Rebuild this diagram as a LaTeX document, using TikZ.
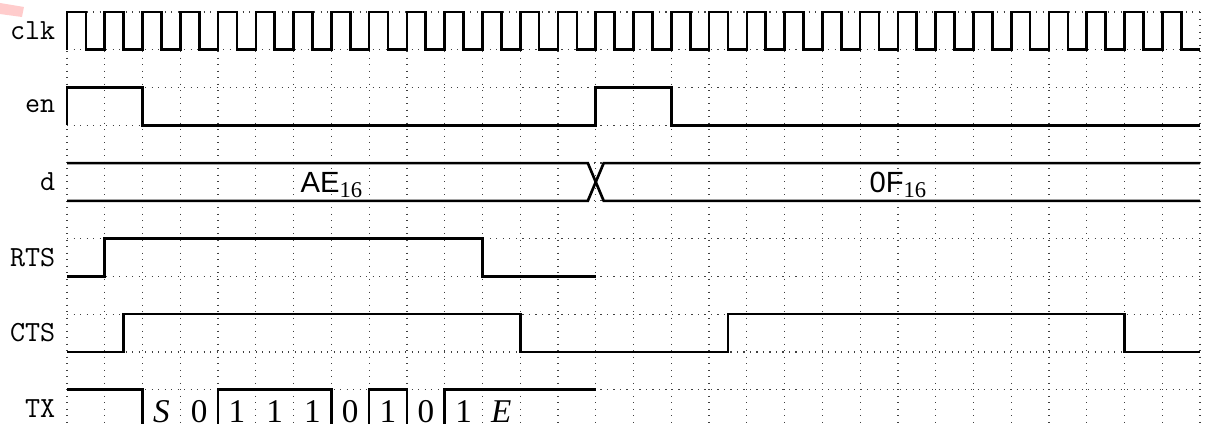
\documentclass[tikz,border=0pt]{standalone}
\usepackage{fontspec}
\setmainfont{Liberation Serif}
\setsansfont{Liberation Sans}
\usepackage{tikz}

\begin{document}
\begin{tikzpicture}[
  x=0.5cm, y=0.5cm,
  every node/.style={font=\fontsize{11}{13}\selectfont},
  wave/.style={line width=1pt, line join=miter},
  gridline/.style={dotted, line width=0.45pt, black!75},
  signame/.style={anchor=east, inner sep=0pt, font=\fontsize{11}{13}\selectfont\ttfamily},
  hexval/.style={anchor=base, font=\fontsize{11}{13}\selectfont\sffamily},
  bit/.style={inner sep=0pt, font=\fontsize{12.5}{14}\selectfont},
]
  \newcommand\hexsub[1]{\raisebox{-1.8pt}{\fontsize{8.5}{10}\selectfont\rmfamily #1}}
  \useasboundingbox (-1.774,0.318) rectangle (30.21,-10.908);

  % grid
  \foreach \x in {0,...,30} \draw[gridline] (\x,0) -- (\x,-11);
  \foreach \y in {0,...,11} \draw[gridline] (0,-\y) -- (30,-\y);

  % smudge in the corner
  \fill[red!20] (-1.774,0.239) -- (-1.139,0.133) -- (-1.192,-0.132) -- (-1.774,-0.053) -- cycle;

  % signal names
  \node[signame] (clk) at (-0.3,-0.5) {clk};
  \node[signame] (en)  at (-0.3,-2.5) {en};
  \node[signame] (d)   at (-0.3,-4.5) {d};
  \node[signame] (rts) at (-0.3,-6.5) {RTS};
  \node[signame] (cts) at (-0.3,-8.5) {CTS};
  \node[signame] (tx)  at (-0.3,-10.5) {TX};

  % clk
  \draw[wave] (0,-1) \foreach \i in {0,...,29} { -- (\i,0) -- (\i+0.5,0) -- (\i+0.5,-1) -- (\i+1,-1) };

  % en
  \draw[wave] (0,-3) -- (0,-2) -- (2,-2) -- (2,-3) -- (14,-3) -- (14,-2) -- (16,-2) -- (16,-3) -- (30,-3);

  % d
  \draw[wave] (0,-4) -- (13.79,-4) -- (14.21,-5) -- (30,-5);
  \draw[wave] (0,-5) -- (13.79,-5) -- (14.21,-4) -- (30,-4);
  \node[hexval] (dae) at (7,-4.79) {AE\hexsub{16}};
  \node[hexval] (dof) at (22,-4.79) {0F\hexsub{16}};

  % RTS
  \draw[wave] (0,-7) -- (1,-7) -- (1,-6) -- (11,-6) -- (11,-7) -- (14,-7);

  % CTS
  \draw[wave] (0,-9) -- (1.5,-9) -- (1.5,-8) -- (12,-8) -- (12,-9) -- (17.5,-9) -- (17.5,-8) -- (28,-8) -- (28,-9) -- (30,-9);

  % TX
  \draw[wave] (0,-10) -- (2,-10) -- (2,-11) -- (4,-11) -- (4,-10) -- (7,-10) -- (7,-11) -- (8,-11) -- (8,-10) -- (9,-10) -- (9,-11) -- (10,-11) -- (10,-10) -- (14,-10);
  \foreach \b [count=\i from 2] in {\textit{S},0,1,1,1,0,1,0,1,\textit{E}}
    \node[bit] (tx\i) at (\i+0.5,-10.58) {\b};
\end{tikzpicture}
\end{document}
